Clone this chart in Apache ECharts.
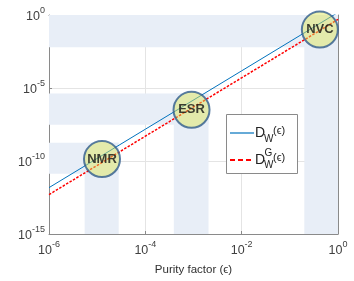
<!DOCTYPE html>
<html><head><meta charset="utf-8">
<script src="https://cdn.jsdelivr.net/npm/echarts@6/dist/echarts.min.js"></script>
<style>html,body{margin:0;padding:0;background:#fff}#c{width:354px;height:281px}</style>
</head><body><div id="c"></div>
<script>
// ---- data ----
const epsilon = [1e-6, 1e-4, 1e-2, 1];
const dW = [1.5e-12, 1.5e-8, 1.5e-4, 1.5];
const dWG = [5e-13, 5e-9, 5e-5, 0.5];
const xRange = [1e-6, 1];
const yRange = [1e-15, 1];
const regimes = ['NMR', 'ESR', 'NVC'];
const regimeX = [1.26e-5, 9.1e-4, 0.42];
const regimeY = [1.35e-10, 3.2e-7, 0.1];
const bandXLow = [5.5e-6, 3.9e-4, 0.2];
const bandXHigh = [2.8e-5, 2.05e-3, 1];
const bandYLow = [1.35e-11, 3.1e-8, 6.3e-3];
const bandYHigh = [1.8e-9, 4.2e-6, 1];

const chart = echarts.init(document.getElementById('c'), null, {renderer: 'canvas'});
const font = 'Liberation Sans, Arial, sans-serif';
const expFmt = v => '{b|10}{e|' + Math.round(Math.log10(v)) + '}';
const richX = {
  b: {fontSize: 12.5, fontFamily: font, color: '#404040', lineHeight: 17, verticalAlign: 'bottom'},
  e: {fontSize: 9, fontFamily: font, color: '#404040', lineHeight: 11, verticalAlign: 'top'}
};
const bandColor = '#e8eef7';
const areas = [];
regimes.forEach((n, i) => {
  areas.push([{coord: [xRange[0], bandYLow[i]]}, {coord: [bandXHigh[i], bandYHigh[i]]}]);
  areas.push([{coord: [bandXLow[i], yRange[0]]}, {coord: [bandXHigh[i], bandYHigh[i]]}]);
});
const axisLineStyle = {color: '#8a8a8a', width: 1};

const option = {
  animation: false,
  backgroundColor: '#fff',
  grid: {left: 49, top: 15, right: 16, bottom: 43, containLabel: false},
  xAxis: [{
    type: 'log', logBase: 10, min: xRange[0], max: xRange[1], interval: 2,
    axisLine: {show: true, lineStyle: axisLineStyle},
    axisTick: {show: true, inside: true, length: 3, lineStyle: axisLineStyle},
    minorTick: {show: false},
    splitLine: {show: true, lineStyle: {color: '#e4e4e4', width: 1}},
    axisLabel: {formatter: expFmt, rich: richX, margin: 6},
    name: 'Purity factor (\u03f5)', nameLocation: 'middle', nameGap: 30,
    nameTextStyle: {fontSize: 11.5, fontFamily: font, color: '#303030'}
  }, {
    type: 'log', logBase: 10, min: xRange[0], max: xRange[1], interval: 2, position: 'top',
    axisLine: {show: true, lineStyle: axisLineStyle},
    axisTick: {show: true, inside: true, length: 3, lineStyle: axisLineStyle},
    splitLine: {show: false}, axisLabel: {show: false}
  }],
  yAxis: [{
    type: 'log', logBase: 10, min: yRange[0], max: yRange[1], interval: 5,
    axisLine: {show: true, lineStyle: axisLineStyle},
    axisTick: {show: true, inside: true, length: 3, lineStyle: axisLineStyle},
    minorTick: {show: false},
    splitLine: {show: true, lineStyle: {color: '#e4e4e4', width: 1}},
    axisLabel: {formatter: expFmt, rich: richX, margin: 4}
  }, {
    type: 'log', logBase: 10, min: yRange[0], max: yRange[1], interval: 5, position: 'right',
    axisLine: {show: true, lineStyle: axisLineStyle},
    axisTick: {show: true, inside: true, length: 3, lineStyle: axisLineStyle},
    splitLine: {show: false}, axisLabel: {show: false}
  }],
  series: [{
    type: 'line', data: [], z: -1, silent: true,
    markArea: {silent: true, itemStyle: {color: bandColor}, data: areas}
  }, {
    name: 'DW', type: 'line', symbol: 'none', z: 3,
    data: epsilon.map((x, i) => [x, dW[i]]),
    lineStyle: {color: '#0072BD', width: 1}
  }, {
    name: 'DWG', type: 'line', symbol: 'none', z: 3,
    data: epsilon.map((x, i) => [x, dWG[i]]),
    lineStyle: {color: '#ff0000', width: 1.5, type: [2.5, 1.5]}
  }, {
    type: 'scatter', z: 5, clip: false, symbolSize: 36,
    data: regimes.map((n, i) => ({name: n, value: [regimeX[i], regimeY[i]]})),
    itemStyle: {color: 'rgba(222,230,88,0.6)', borderColor: '#2f5b8c', borderWidth: 2},
    label: {show: true, position: 'inside', formatter: '{b}', fontSize: 13, fontWeight: 'bold', fontFamily: font, color: '#111'}
  }],
  graphic: [
    {type: 'rect', z: 100, shape: {x: 226.5, y: 114.5, width: 71, height: 59},
     style: {fill: '#fff', stroke: '#8a8a8a', lineWidth: 1}},
    {type: 'line', z: 101, shape: {x1: 230, y1: 133, x2: 254, y2: 133}, style: {stroke: '#0072BD', lineWidth: 1.2}},
    {type: 'line', z: 101, shape: {x1: 230, y1: 160, x2: 254, y2: 160}, style: {stroke: '#ff0000', lineWidth: 2, lineDash: [5, 3]}},
    {type: 'text', z: 101, x: 255, y: 133, style: {text: 'D', font: '14px ' + font, fill: '#222', verticalAlign: 'middle'}},
    {type: 'text', z: 101, x: 264, y: 139, style: {text: 'W', font: '10px ' + font, fill: '#222', verticalAlign: 'middle'}},
    {type: 'text', z: 101, x: 273, y: 131, style: {text: '(\u03f5)', font: '11px ' + font, fill: '#222', verticalAlign: 'middle'}},
    {type: 'text', z: 101, x: 255, y: 160, style: {text: 'D', font: '14px ' + font, fill: '#222', verticalAlign: 'middle'}},
    {type: 'text', z: 101, x: 264.5, y: 153.5, style: {text: 'G', font: '10px ' + font, fill: '#222', verticalAlign: 'middle'}},
    {type: 'text', z: 101, x: 264, y: 165, style: {text: 'W', font: '10px ' + font, fill: '#222', verticalAlign: 'middle'}},
    {type: 'text', z: 101, x: 273, y: 158, style: {text: '(\u03f5)', font: '11px ' + font, fill: '#222', verticalAlign: 'middle'}}
  ]
};
chart.setOption(option);
</script>
</body></html>
